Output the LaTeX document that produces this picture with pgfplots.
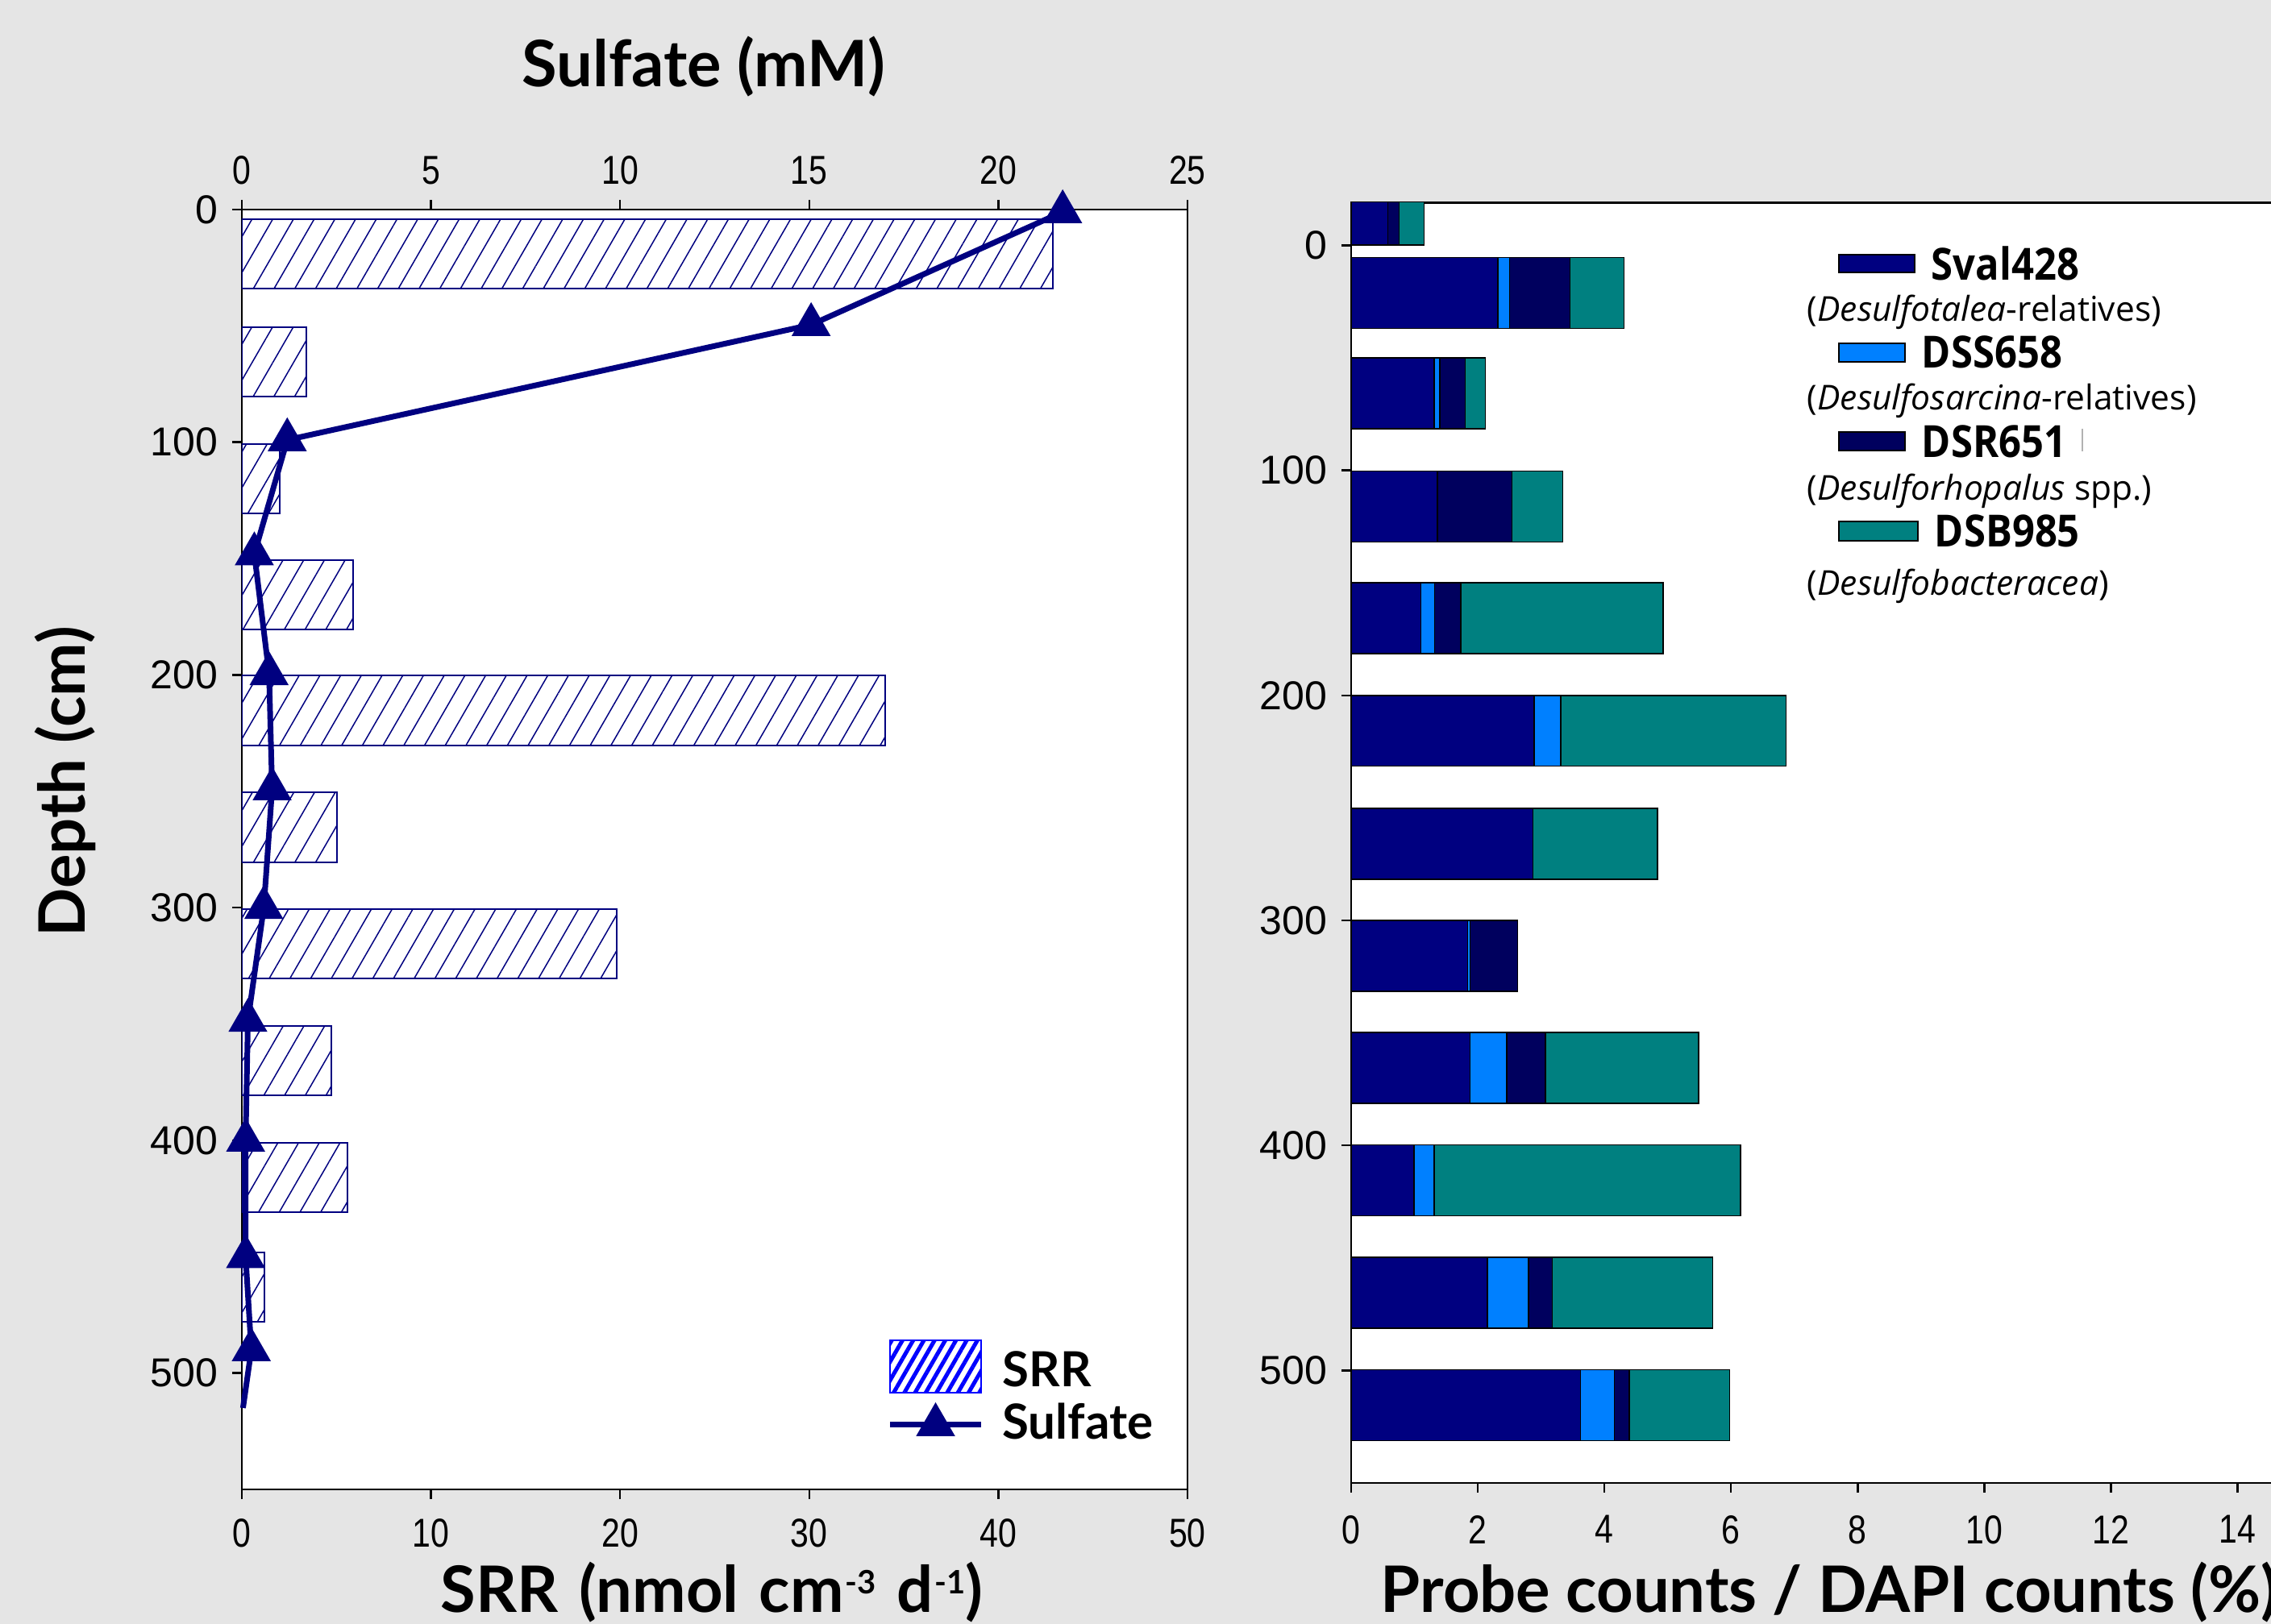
\documentclass[border=0pt]{standalone}
\usepackage{fontspec}
\setmainfont{Liberation Sans}
\newfontfamily\latofont{Lato}
\newfontfamily\opensans{Open Sans}
\newfontfamily\opensansn{Open Sans}[FakeStretch=0.89]
\newfontfamily\tickfont{Liberation Sans}[FakeStretch=0.82]
\usepackage{pgfplots}
\usepackage{pgfplotstable}
\pgfplotsset{compat=1.18}
\usetikzlibrary{patterns.meta}

\definecolor{bg}{HTML}{E5E5E5}
\definecolor{navy}{HTML}{000080}
\definecolor{dss}{HTML}{0080FF}
\definecolor{dsr}{HTML}{00005E}
\definecolor{dsb}{HTML}{008080}

\pgfplotstableread{
y sval dss dsr dsb
-15.9 0.58 0.00 0.18 0.39
21.1 2.32 0.18 0.96 0.85
65.7 1.31 0.09 0.40 0.32
116 1.36 0.01 1.17 0.80
165.6 1.10 0.22 0.41 3.20
215.7 2.89 0.42 0.00 3.56
266 2.87 0.00 0.00 1.97
315.8 1.84 0.04 0.75 0.00
365.5 1.88 0.58 0.61 2.42
415.5 0.99 0.32 0.00 4.84
465.5 2.15 0.65 0.38 2.53
515.5 3.62 0.54 0.23 1.59
}\probes

\pgfplotstableread{
y srr
19 42.9
65.5 3.42
115.7 1.99
165.6 5.87
215.3 34.0
265.5 5.02
315.5 19.8
365.8 4.72
416 5.6
463 1.2
}\srrdata

\pgfplotstableread{
so4 depth
21.7 1
15.05 49.5
1.2 99
0.33 148
0.72 199.5
0.8 249
0.58 300
0.16 348.5
0.1 400
0.1 450
0.25 490
0.03 515
}\sulfate

\pgfplotsset{
  common/.style={
    scale only axis, anchor=south west,
    tick align=outside, major tick length=2.4pt,
    tick style={black, line width=0.5pt},
    axis line style={black, line width=0.5pt},
    /pgf/number format/assume math mode=true,
  },
  sulfate legend/.style={
    legend image code/.code={\draw[##1, mark indices={2}] plot coordinates {(0pt,0pt) (11.3pt,0pt) (22.6pt,0pt)};}
  },
  srr legend/.style={
    legend image code/.code={\draw[draw=blue, line width=0.5pt,
      pattern={Lines[angle=60,distance=2.3pt,line width=1pt]}, pattern color=blue]
      (0pt,-6.5pt) rectangle (22.6pt,6.5pt);}
  },
}

\newcommand\titlefont{\latofont\bfseries\fontsize{15.9}{18}\selectfont}
\newcommand\supx[1]{\kern0.4pt\raisebox{4.6pt}{\fontsize{8}{8}\selectfont #1}}
\newcommand\wsp{\hspace{0.32em}}

\begin{document}
\begin{tikzpicture}
\fill[bg] (0,0) rectangle (563.4pt,-403pt);

% left: SRR bars
\begin{axis}[common,
  at={(60pt,-369.6pt)}, width=234.6pt, height=317.6pt,
  xmin=0, xmax=50, ymin=0, ymax=550, y dir=reverse,
  axis background/.style={fill=white},
  xtick={0,10,...,50}, ytick={0,100,...,500},
  xtick pos=bottom, ytick pos=left,
  xticklabel style={font=\tickfont\fontsize{10}{12}\selectfont, yshift=-1.3pt},
  yticklabel style={font=\fontsize{10}{12}\selectfont},
]
\addplot[xbar, bar width=30, draw=navy, line width=0.4pt,
  pattern={Lines[angle=60,distance=4.45pt,line width=0.3pt]}, pattern color=navy]
  table[x=srr, y=y] {\srrdata};
\end{axis}

% left: sulfate line, top axis
\begin{axis}[common,
  at={(60pt,-369.6pt)}, width=234.6pt, height=317.6pt,
  xmin=0, xmax=25, ymin=0, ymax=550, y dir=reverse,
  axis x line*=top, axis y line=none, clip=false,
  xtick={0,5,...,25},
  xticklabel style={font=\tickfont\fontsize{10}{12}\selectfont, yshift=0.3pt},
  legend style={at={(0.6816,0.0756)}, anchor=west, draw=none, fill=none,
    font=\latofont\bfseries\fontsize{12}{14}\selectfont,
    inner sep=0pt, row sep=2pt, column sep=4.6pt,
    nodes={inner sep=0pt, text height=9pt, text depth=2pt}},
  legend cell align=left,
]
\addlegendimage{srr legend}
\addlegendentry{\raisebox{-1.5pt}{SRR}}
\addplot[navy, line width=1.4pt, mark=triangle*, mark size=5pt,
  mark indices={1,...,11}, mark options={solid, fill=navy, line width=0.6pt}, sulfate legend]
  table[x=so4, y=depth] {\sulfate};
\addlegendentry{Sulfate}
\end{axis}

% right: probe counts
\begin{axis}[common,
  at={(335.2pt,-368pt)}, width=251.3pt, height=317.7pt,
  xmin=0, xmax=16, ymin=-19, ymax=550, y dir=reverse,
  axis background/.style={fill=white},
  xbar stacked, bar width=31.5,
  xtick={0,2,...,14}, ytick={0,100,...,500},
  xtick pos=bottom, ytick pos=left,
  xticklabel style={font=\tickfont\fontsize{10}{12}\selectfont, yshift=-2.1pt},
  yticklabel style={font=\fontsize{10}{12}\selectfont},
]
\addplot[fill=navy, draw=black, line width=0.3pt] table[x=sval, y=y] {\probes};
\addplot[fill=dss, draw=black, line width=0.3pt] table[x=dss, y=y] {\probes};
\addplot[fill=dsr, draw=black, line width=0.3pt] table[x=dsr, y=y] {\probes};
\addplot[fill=dsb, draw=black, line width=0.3pt] table[x=dsb, y=y] {\probes};
\end{axis}

\begin{scope}[x=0.2pt, y=-0.2pt]
\node[font=\titlefont, inner sep=0pt] at (873,83) {Sulfate (mM)};
\node[font=\titlefont, inner sep=0pt, rotate=90] at (81,970) {Depth (cm)};
\node[font=\titlefont, inner sep=0pt] at (883,1976) {SRR\wsp(nmol\wsp cm\supx{-3}\wsp d\supx{-1})};
\node[font=\titlefont, inner sep=0pt, anchor=west] at (1712,1976) {Probe counts / DAPI counts (\%)};

% right legend
\draw[fill=navy, line width=0.3pt] (2281,316) rectangle (2375,338);
\draw[fill=dss, line width=0.3pt] (2281,426) rectangle (2363,449);
\draw[fill=dsr, line width=0.3pt] (2281,536) rectangle (2363,559);
\draw[fill=dsb, line width=0.3pt] (2281,647) rectangle (2379,671);
\begin{scope}[every node/.style={anchor=west, inner sep=0pt}]
\node[font=\opensansn\bfseries\fontsize{11}{13}\selectfont] at (2395,327) {Sval428};
\node[font=\opensansn\bfseries\fontsize{11}{13}\selectfont] at (2383,437) {DSS658};
\node[font=\opensansn\bfseries\fontsize{11}{13}\selectfont] at (2383,548) {DSR651};
\node[font=\opensansn\bfseries\fontsize{11}{13}\selectfont] at (2399,659) {DSB985};
\node[font=\opensans\fontsize{8.5}{10}\selectfont] at (2241,387) {(\textit{Desulfotalea}-relatives)};
\node[font=\opensans\fontsize{8.5}{10}\selectfont] at (2241,497) {(\textit{Desulfosarcina}-relatives)};
\node[font=\opensans\fontsize{8.5}{10}\selectfont] at (2241,609) {(\textit{Desulforhopalus} spp.)};
\node[font=\opensans\fontsize{8.5}{10}\selectfont] at (2241,727) {(\textit{Desulfobacteracea})};
\end{scope}
\draw[gray!60, line width=0.4pt] (2583,532) -- (2583,560);
\end{scope}

\pgfresetboundingbox
\path[use as bounding box] (0,0) rectangle (563.4pt,-403pt);
\end{tikzpicture}
\end{document}
